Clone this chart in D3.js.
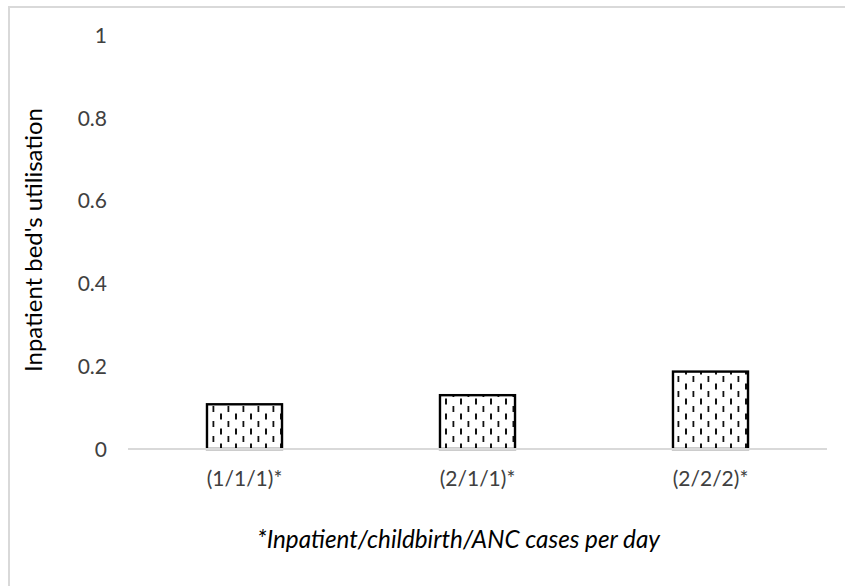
<!DOCTYPE html>
<html>
<head>
<meta charset="utf-8">
<script src="https://cdn.jsdelivr.net/npm/d3@7/dist/d3.min.js"></script>
<style>
  html, body { margin: 0; padding: 0; background: #fff; }
  svg { display: block; }
  text { font-family: Lato, "Open Sans", sans-serif; fill: #404040; }
</style>
</head>
<body>
<svg id="chart" width="845" height="586"></svg>
<script>
const categories = ["(1/1/1)*", "(2/1/1)*", "(2/2/2)*"];
const values = [0.108, 0.130, 0.187];
const yTicks = [0, 0.2, 0.4, 0.6, 0.8, 1];
const yTitle = "Inpatient bed's utilisation";
const xTitle = "*Inpatient/childbirth/ANC cases per day";

const svg = d3.select("#chart");
const W = 845, H = 586;
const plot = { left: 128, right: 827, top: 35, bottom: 449 };

// outer chart border (extends past the picture on right/bottom)
svg.append("rect")
  .attr("x", 9).attr("y", 7)
  .attr("width", W + 20).attr("height", H + 20)
  .attr("fill", "#fff")
  .attr("stroke", "#d9d9d9").attr("stroke-width", 2);

// pattern: dashed vertical
const defs = svg.append("defs");
const pat = defs.append("pattern")
  .attr("id", "dashv")
  .attr("patternUnits", "userSpaceOnUse")
  .attr("width", 15).attr("height", 15)
  .attr("x", 0).attr("y", 0);
pat.append("rect").attr("width", 15).attr("height", 15).attr("fill", "#fff");
pat.append("rect").attr("x", 2.5).attr("y", 1).attr("width", 1.8).attr("height", 6).attr("fill", "#111");
pat.append("rect").attr("x", 10).attr("y", 8.5).attr("width", 2).attr("height", 6).attr("fill", "#111");

const x = d3.scaleBand().domain(categories).range([plot.left, plot.right]).paddingInner(0.678).paddingOuter(0.339);
const y = d3.scaleLinear().domain([0, 1]).range([plot.bottom, plot.top]);

function fit(sel, target) {
  const n = sel.node();
  const fs = parseFloat(n.style.fontSize);
  const w = n.getComputedTextLength();
  sel.style("font-size", (fs * target / w).toFixed(2) + "px");
}

// y tick labels
const yAxis = d3.axisLeft(y).tickValues(yTicks).tickFormat(d => d === 0 ? "0" : d3.format("")(d)).tickSize(0).tickPadding(0);
const gy = svg.append("g").attr("transform", `translate(107,0)`).call(yAxis);
gy.select(".domain").remove();
gy.selectAll("text").style("font-size", "21px").attr("fill", "#404040").style("font-family", "Lato, sans-serif").attr("dy", "0.35em");

// bars
svg.append("g").selectAll("rect.bar")
  .data(values)
  .join("rect")
  .attr("class", "bar")
  .attr("x", (d, i) => x(categories[i]))
  .attr("y", d => y(d))
  .attr("width", x.bandwidth())
  .attr("height", d => y(0) - y(d))
  .attr("fill", "url(#dashv)")
  .attr("stroke", "#000")
  .attr("stroke-width", 2.4);

// x axis baseline
const xAxis = d3.axisBottom(x).tickSize(0).tickPadding(0);
const gx = svg.append("g").attr("transform", `translate(0,${plot.bottom})`).call(xAxis);
gx.select(".domain").attr("stroke", "#d9d9d9").attr("stroke-width", 2).attr("d", `M${plot.left},0H${plot.right}`);
gx.selectAll("text").style("font-size", "21px").attr("fill", "#404040").style("font-family", "Lato, sans-serif").attr("dy", "0").attr("y", 37);

// y title
const yt = svg.append("text")
  .attr("transform", `translate(42,${(108 + 372) / 2}) rotate(-90)`)
  .attr("text-anchor", "middle")
  .style("font-size", "20px")
  .style("fill", "#000")
  .text(yTitle);
fit(yt, 264);

// x title
const xt = svg.append("text")
  .attr("x", (257 + 660) / 2)
  .attr("y", 548)
  .attr("text-anchor", "middle")
  .style("font-size", "21px")
  .style("font-style", "italic")
  .style("fill", "#000")
  .text(xTitle);
fit(xt, 403);
</script>
</body>
</html>
